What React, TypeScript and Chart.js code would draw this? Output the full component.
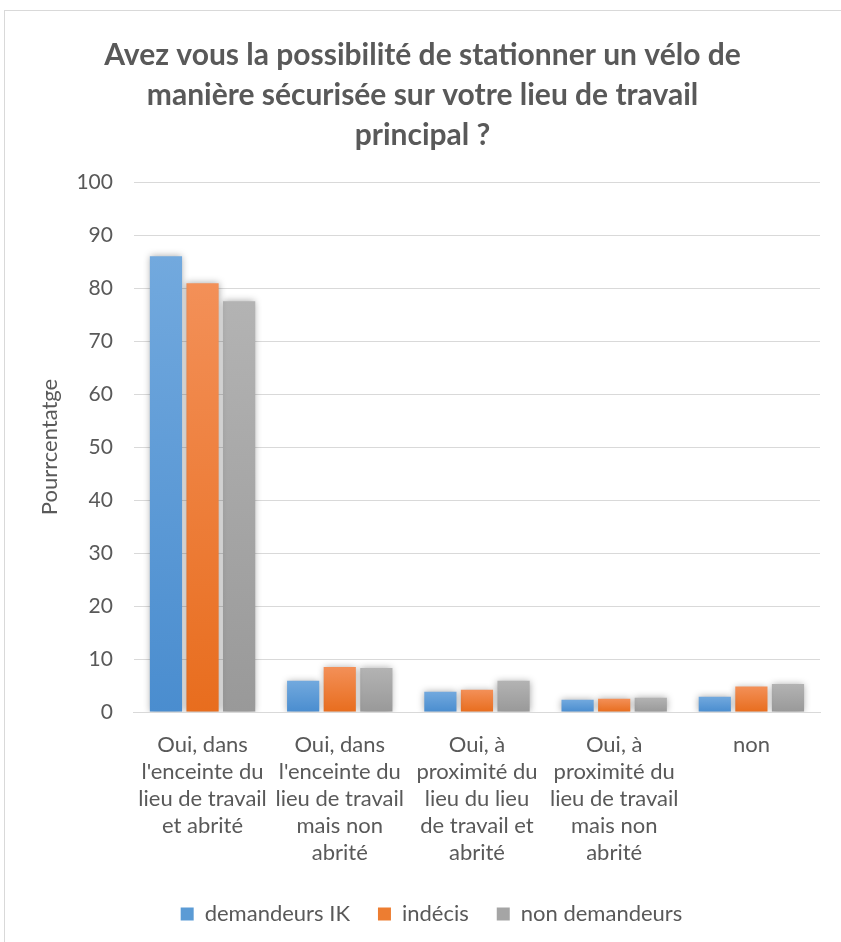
import React, { useEffect, useRef } from "react";
import { Chart, registerables } from "chart.js";

Chart.register(...registerables);

const TITLE_LINES = [
  "Avez vous la possibilité de stationner un vélo de",
  "manière sécurisée sur votre lieu de travail",
  "principal ?",
];
const Y_AXIS_TITLE = "Pourrcentatge";
const CATEGORIES = [
  ["Oui, dans", "l'enceinte du", "lieu de travail", "et abrité"],
  ["Oui, dans", "l'enceinte du", "lieu de travail", "mais non", "abrité"],
  ["Oui, à", "proximité du", "lieu du lieu", "de travail et", "abrité"],
  ["Oui, à", "proximité du", "lieu de travail", "mais non", "abrité"],
  ["non"],
];
const SERIES_NAMES = ["demandeurs IK", "indécis", "non demandeurs"];
const DEMANDEURS_IK = [86.0, 5.9, 3.8, 2.3, 2.9];
const INDECIS = [80.9, 8.5, 4.2, 2.5, 4.8];
const NON_DEMANDEURS = [77.5, 8.3, 5.9, 2.7, 5.3];
const Y_MIN = 0;
const Y_MAX = 100;
const Y_STEP = 10;

const COLORS = [
  { top: "#72a9de", bottom: "#4a8dcf", solid: "#5b9bd5" },
  { top: "#f39058", bottom: "#e86d1e", solid: "#ed7d31" },
  { top: "#b3b3b3", bottom: "#999999", solid: "#a5a5a5" },
];

const FONT = "Lato, 'Open Sans', sans-serif";
const TEXT = "#595959";

function gradientFor(idx: number) {
  return (ctx: any) => {
    const chart = ctx.chart;
    const area = chart.chartArea;
    if (!area || ctx.type !== "data") return COLORS[idx].solid;
    const y = chart.scales.y;
    const v = ctx.raw as number;
    const top = y.getPixelForValue(v);
    const bottom = y.getPixelForValue(0);
    if (!isFinite(top) || !isFinite(bottom) || top === bottom) return COLORS[idx].solid;
    const g = chart.ctx.createLinearGradient(0, top, 0, bottom);
    g.addColorStop(0, COLORS[idx].top);
    g.addColorStop(1, COLORS[idx].bottom);
    return g;
  };
}

const shadowPlugin = {
  id: "barShadow",
  beforeDatasetsDraw(chart: any) {
    const c = chart.ctx;
    c.save();
    c.shadowColor = "rgba(0,0,0,0.35)";
    c.shadowBlur = 7;
    c.shadowOffsetX = 0;
    c.shadowOffsetY = 0;
  },
  afterDatasetsDraw(chart: any) {
    chart.ctx.restore();
  },
};

const legendShiftPlugin = {
  id: "legendShift",
  afterLayout(chart: any) {
    const lg = chart.legend;
    if (lg) {
      lg.left += 9;
      lg.right += 9;
    }
  },
};

export default function App() {
  const ref = useRef<HTMLCanvasElement | null>(null);

  useEffect(() => {
    document.body.style.margin = "0";
    if (!ref.current) return;
    const seriesData = [DEMANDEURS_IK, INDECIS, NON_DEMANDEURS];
    const chart = new Chart(ref.current, {
      type: "bar",
      data: {
        labels: CATEGORIES,
        datasets: seriesData.map((d, i) => ({
          label: SERIES_NAMES[i],
          data: d,
          backgroundColor: gradientFor(i),
          borderWidth: 0,
          categoryPercentage: 0.8,
          barPercentage: 0.88,
        })),
      },
      options: {
        animation: false,
        responsive: false,
        maintainAspectRatio: false,
        layout: { padding: { left: 20, right: 35, top: 0, bottom: 7 } },
        plugins: {
          title: {
            display: true,
            text: TITLE_LINES,
            color: TEXT,
            font: { family: FONT, size: 30, weight: "bold", lineHeight: 40 / 30 },
            padding: { top: 24, bottom: 27 },
          },
          legend: {
            display: true,
            position: "bottom",
            labels: {
              color: TEXT,
              font: { family: FONT, size: 22 },
              boxWidth: 13,
              boxHeight: 13,
              padding: 28,
              generateLabels: (chart: any) =>
                chart.data.datasets.map((ds: any, i: number) => ({
                  text: ds.label,
                  fillStyle: COLORS[i].solid,
                  strokeStyle: COLORS[i].solid,
                  lineWidth: 0,
                  hidden: false,
                  datasetIndex: i,
                  fontColor: TEXT,
                })),
            },
          },
          tooltip: { enabled: false },
        },
        scales: {
          x: {
            grid: { display: false, drawTicks: false },
            border: { display: true, color: "#d9d9d9", width: 1 },
            ticks: {
              color: TEXT,
              font: { family: FONT, size: 22, lineHeight: 27 / 22 },
              maxRotation: 0,
              autoSkip: false,
              padding: 19,
            },
            afterFit: (scale: any) => {
              scale.height -= 10;
            },
          },
          y: {
            min: Y_MIN,
            max: Y_MAX,
            grid: { color: "#d9d9d9", drawTicks: false, lineWidth: 1 },
            border: { display: false },
            ticks: {
              stepSize: Y_STEP,
              color: TEXT,
              font: { family: FONT, size: 21 },
              padding: 21,
            },
            title: {
              display: true,
              text: Y_AXIS_TITLE,
              color: TEXT,
              font: { family: FONT, size: 22 },
              padding: { top: 12, bottom: -8 },
            },
          },
        },
      },
      plugins: [shadowPlugin, legendShiftPlugin],
    });
    return () => chart.destroy();
  }, []);

  return (
    <div
      style={{
        position: "absolute",
        left: 0,
        top: 0,
        width: 841,
        height: 942,
        overflow: "hidden",
        background: "#ffffff",
      }}
    >
      <div
        style={{
          position: "absolute",
          left: 4,
          top: 10,
          width: 850,
          height: 931,
          border: "1px solid #d9d9d9",
          background: "#ffffff",
        }}
      >
        <canvas ref={ref} width={850} height={931} style={{ display: "block" }} />
      </div>
    </div>
  );
}
